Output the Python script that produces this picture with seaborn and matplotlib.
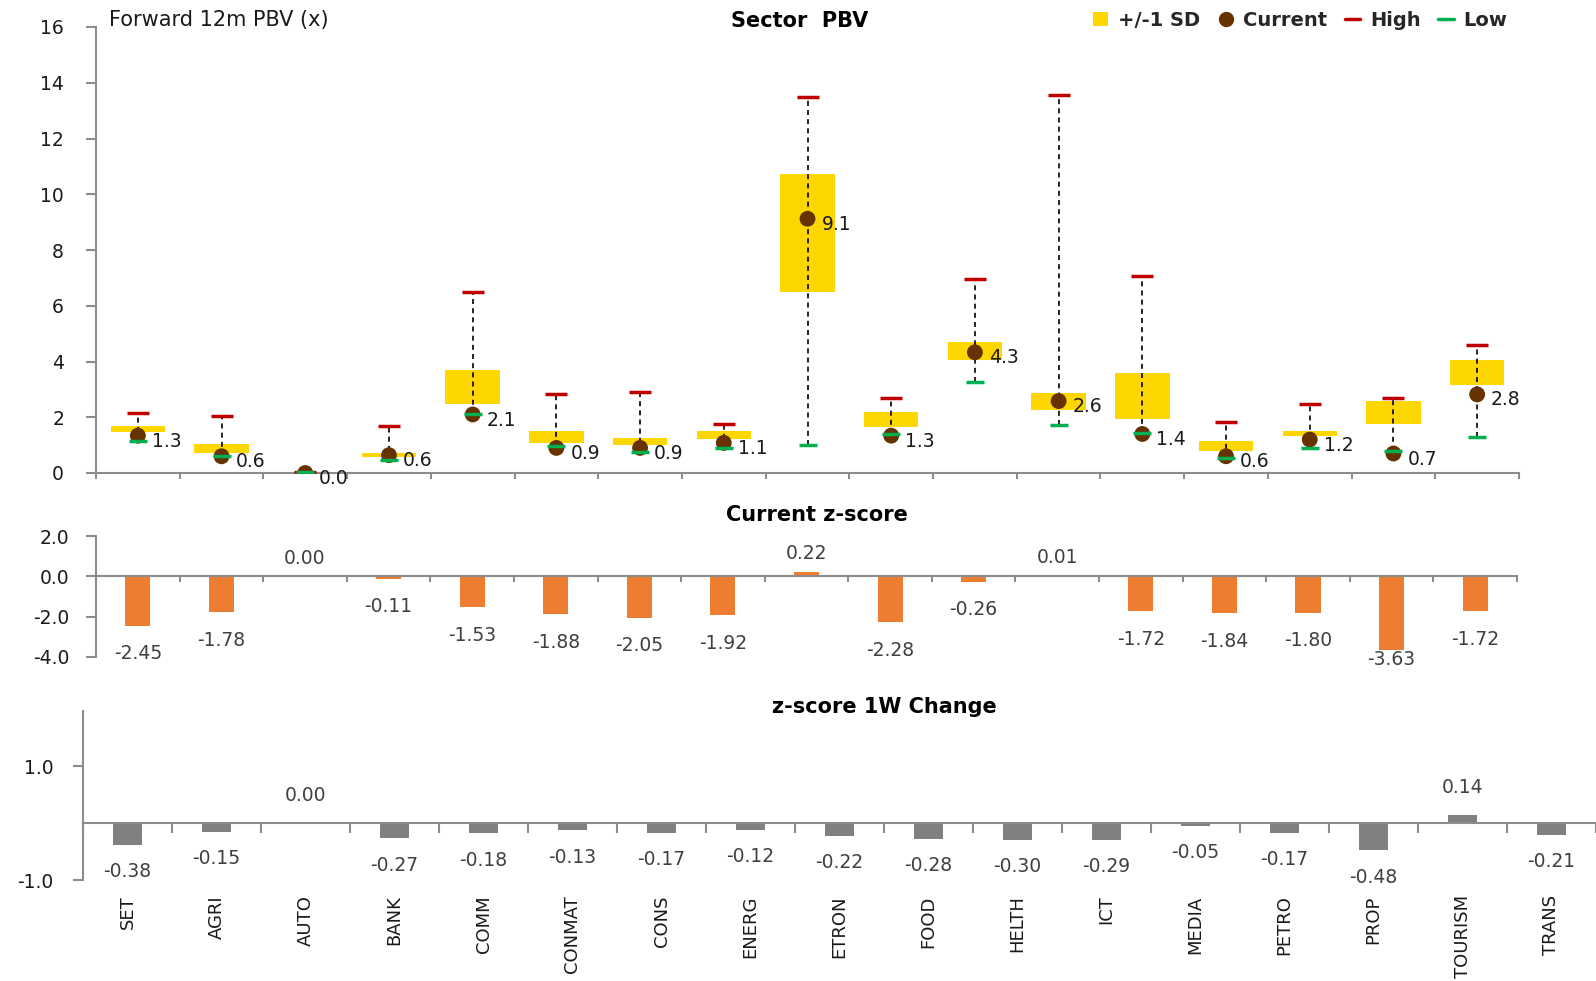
import numpy as np
import pandas as pd
import matplotlib.pyplot as plt
from matplotlib.lines import Line2D
from matplotlib.patches import Patch
from matplotlib.ticker import FormatStrFormatter
import seaborn as sns

sectors = ['SET', 'AGRI', 'AUTO', 'BANK', 'COMM', 'CONMAT', 'CONS', 'ENERG', 'ETRON',
           'FOOD', 'HELTH', 'ICT', 'MEDIA', 'PETRO', 'PROP', 'TOURISM', 'TRANS']
sd_low = [1.46, 0.72, 0.00, 0.58, 2.46, 1.08, 1.02, 1.21, 6.51, 1.64, 4.06, 2.27, 1.95, 0.78, 1.34, 1.76, 3.14]
sd_high = [1.70, 1.05, 0.05, 0.70, 3.68, 1.50, 1.26, 1.50, 10.73, 2.19, 4.69, 2.88, 3.57, 1.14, 1.50, 2.58, 4.06]
pbv_high = [2.15, 2.03, 0.02, 1.70, 6.51, 2.82, 2.90, 1.76, 13.48, 2.70, 6.95, 13.55, 7.07, 1.83, 2.46, 2.70, 4.58]
pbv_low = [1.16, 0.60, 0.02, 0.46, 2.13, 0.96, 0.77, 0.90, 1.02, 1.40, 3.27, 1.71, 1.45, 0.54, 0.90, 0.78, 1.28]
current = [1.34, 0.60, 0.00, 0.64, 2.10, 0.90, 0.90, 1.08, 9.12, 1.34, 4.33, 2.58, 1.40, 0.60, 1.20, 0.70, 2.82]
zscore = [-2.45, -1.78, 0.00, -0.11, -1.53, -1.88, -2.05, -1.92, 0.22, -2.28, -0.26, 0.01,
          -1.72, -1.84, -1.80, -3.63, -1.72]
z_change = [-0.38, -0.15, 0.00, -0.27, -0.18, -0.13, -0.17, -0.12, -0.22, -0.28, -0.30, -0.29,
            -0.05, -0.17, -0.48, 0.14, -0.21]

YELLOW = '#FFD700'
BROWN = '#663300'
RED = '#C00000'
GREEN = '#00B050'
ORANGE = '#ED7D31'
GREY_BAR = '#808080'
AXIS = '#8C8C8C'
TXT = '#1a1a1a'
LBL = '#404040'

sns.set_style('white')
plt.rcParams['font.family'] = ['DejaVu Sans']
plt.rcParams['font.size'] = 13

W, H = 1596, 981
fig = plt.figure(figsize=(W / 100, H / 100), dpi=100)


def px_axes(left, right, top, bottom):
    return fig.add_axes([left / W, 1 - bottom / H, (right - left) / W, (bottom - top) / H])


n = len(sectors)
pos = np.arange(n)
edges = np.arange(-0.5, n, 1.0)

# ---------- top: sector PBV ----------
ax1 = px_axes(96, 1519, 27, 473)
ax1.bar(pos, np.array(sd_high) - np.array(sd_low), bottom=sd_low, width=0.65,
        color=YELLOW, linewidth=0, zorder=1)
ax1.vlines(pos, pbv_low, pbv_high, colors='black', linestyles=(0, (3, 2.5)),
           linewidth=1.2, zorder=2)
df_cur = pd.DataFrame({'pos': pos, 'current': current})
sns.scatterplot(data=df_cur, x='pos', y='current', color=BROWN, s=130,
                edgecolor='none', ax=ax1, zorder=3)
ax1.plot(pos, pbv_high, linestyle='none', marker='_', markersize=16, mew=2.5, color=RED, zorder=4)
ax1.plot(pos, pbv_low, linestyle='none', marker='_', markersize=13, mew=2.5, color=GREEN, zorder=4)
for i, v in enumerate(current):
    ax1.annotate(f'{v:.1f}', (i, v), xytext=(10, -4), textcoords='offset points',
                 ha='left', va='center', fontsize=13.5, color=TXT, zorder=5)
ax1.set_xlim(-0.5, n - 0.5)
ax1.set_ylim(0, 16)
ax1.set_yticks(np.arange(0, 17, 2))
ax1.set_xticks(edges)
ax1.set_xticklabels([])
ax1.set_xlabel('')
ax1.set_ylabel('')
ax1.tick_params(axis='y', length=7, width=1.5, color=AXIS, pad=16, labelsize=13.5, labelcolor=TXT, left=True)
ax1.tick_params(axis='x', length=4, width=1.5, color=AXIS, bottom=True)

# ---------- middle: current z-score ----------
ax2 = px_axes(96, 1517, 536, 657)
df_z = pd.DataFrame({'Sector': sectors, 'z': zscore})
sns.barplot(data=df_z, x='Sector', y='z', color=ORANGE, saturation=1, width=0.30,
            linewidth=0, ax=ax2)
for i, v in enumerate(zscore):
    if v < 0:
        y = max(v - 1.39, -4.1)
    else:
        y = v + 0.9
    ax2.text(i, y, f'{v:.2f}', ha='center', va='center', fontsize=13.5, color=LBL)
ax2.set_xlim(-0.5, n - 0.5)
ax2.set_ylim(-4, 2)
ax2.set_yticks([-4, -2, 0, 2])
ax2.yaxis.set_major_formatter(FormatStrFormatter('%.1f'))
ax2.set_xticks(edges)
ax2.set_xticklabels([])
ax2.set_xlabel('')
ax2.set_ylabel('')
ax2.spines['bottom'].set_position(('data', 0))
ax2.tick_params(axis='y', length=7, width=1.5, color=AXIS, pad=12, labelsize=13.5, labelcolor=TXT, left=True)
ax2.tick_params(axis='x', length=4, width=1.5, color=AXIS, bottom=True)

# ---------- bottom: z-score 1W change ----------
ax3 = px_axes(83, 1596, 711, 880)
df_c = pd.DataFrame({'Sector': sectors, 'chg': z_change})
sns.barplot(data=df_c, x='Sector', y='chg', color=GREY_BAR, saturation=1, width=0.32,
            linewidth=0, ax=ax3)
for i, v in enumerate(z_change):
    y = v - 0.47 if v < 0 else v + 0.49
    ax3.text(i, y, f'{v:.2f}', ha='center', va='center', fontsize=13.5, color=LBL)
ax3.set_xlim(-0.5, n - 0.5)
ax3.set_ylim(-1, 1.97)
ax3.set_yticks([-1, 1])
ax3.yaxis.set_major_formatter(FormatStrFormatter('%.1f'))
ax3.set_xticks(pos)
ax3.set_xticklabels(sectors)
ax3.set_xticks(edges, minor=True)
ax3.set_xlabel('')
ax3.set_ylabel('')
ax3.spines['bottom'].set_position(('data', 0))
ax3.tick_params(axis='x', which='major', length=0, pad=52, labelsize=13,
                labelcolor=TXT, labelrotation=90)
ax3.tick_params(axis='x', which='minor', length=7, width=1.5, color=AXIS, bottom=True)
ax3.tick_params(axis='y', length=7, width=1.5, color=AXIS, pad=14, labelsize=13.5, labelcolor=TXT, left=True)

for ax in (ax1, ax2, ax3):
    sns.despine(ax=ax, top=True, right=True)
    for side in ('left', 'bottom'):
        ax.spines[side].set_color(AXIS)
        ax.spines[side].set_linewidth(1.5)
    ax.set_facecolor('none')

# ---------- titles / legend ----------
fig.text(109 / W, 1 - 20 / H, 'Forward 12m PBV (x)', ha='left', va='center', fontsize=15, color=TXT)
fig.text(800 / W, 1 - 21 / H, 'Sector  PBV', ha='center', va='center', fontsize=15,
         fontweight='bold', color='black')
fig.text(817 / W, 1 - 515 / H, 'Current z-score', ha='center', va='center', fontsize=15,
         fontweight='bold', color='black')
fig.text(884 / W, 1 - 707 / H, 'z-score 1W Change', ha='center', va='center', fontsize=15,
         fontweight='bold', color='black')

handles = [
    Patch(facecolor=YELLOW, edgecolor='none', label='+/-1 SD'),
    Line2D([], [], linestyle='none', marker='o', markersize=10, color=BROWN, label='Current'),
    Line2D([], [], color=RED, lw=2.5, label='High'),
    Line2D([], [], color=GREEN, lw=2.5, label='Low'),
]
fig.legend(handles=handles, loc='center right', bbox_to_anchor=(1515 / W, 1 - 20 / H),
           ncol=4, frameon=False, prop={'weight': 'bold', 'size': 14},
           handlelength=0.8, handletextpad=0.5, columnspacing=0.9, borderaxespad=0)

fig.savefig('out.png', dpi=100)
